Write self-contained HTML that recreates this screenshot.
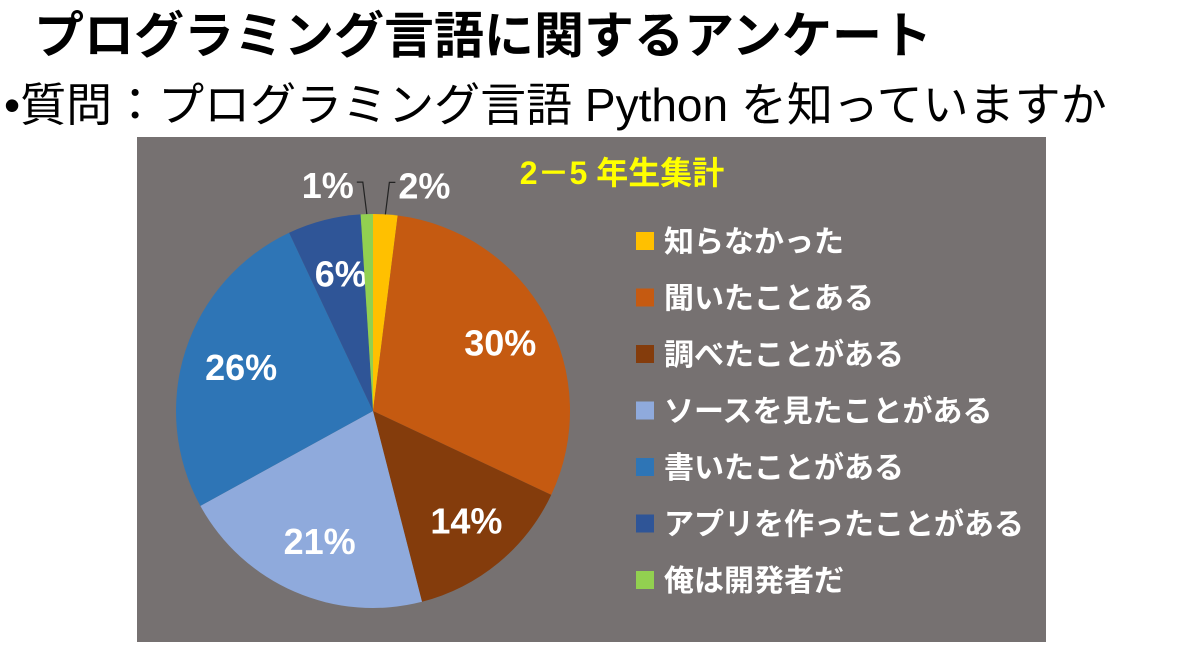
<!DOCTYPE html>
<html><head><meta charset="utf-8">
<style>
body{margin:0;width:1200px;height:647px;background:#fff;overflow:hidden;position:relative;font-family:"Liberation Sans","Noto Sans CJK JP",sans-serif}
#t1{position:absolute;left:34px;top:-4px;font-size:50px;font-weight:bold;color:#000;white-space:nowrap}
#t2{position:absolute;left:4px;top:69px;font-size:46px;color:#000;white-space:nowrap}
#box{position:absolute;left:137px;top:137px;width:909px;height:505px;background:#767171}
</style></head><body>
<div id="t1">プログラミング言語に関するアンケート</div>
<div id="t2">•質問：プログラミング言語 Python を知っていますか</div>
<div id="box"></div>
<svg id="svg" width="1200" height="647" style="position:absolute;left:0;top:0"></svg>
<script>
const categories=["知らなかった","聞いたことある","調べたことがある","ソースを見たことがある","書いたことがある","アプリを作ったことがある","俺は開発者だ"];
const values=[2,30,14,21,26,6,1];
const colors=["#FFC000","#C55A11","#843C0C","#8FAADC","#2E75B6","#2F5597","#92D050"];
const NS="http://www.w3.org/2000/svg";
const svg=document.getElementById('svg');
const cx=373,cy=411,R=197;
function mk(tag,attrs,parent){const e=document.createElementNS(NS,tag);for(const k in attrs)e.setAttribute(k,attrs[k]);(parent||svg).appendChild(e);return e;}
function pt(frac,r){const a=frac*2*Math.PI;return [cx+r*Math.sin(a),cy-r*Math.cos(a)];}
const total=values.reduce((a,b)=>a+b,0);
let acc=0;
const title=mk('text',{x:622,y:184,fill:'#FFFF00','font-size':32,'font-weight':'bold','text-anchor':'middle'});
title.textContent='2－5 年生集計';


values.forEach((v,i)=>{
  const s=acc/total,e=(acc+v)/total;acc+=v;
  const [x1,y1]=pt(s,R),[x2,y2]=pt(e,R);
  const large=(e-s)>0.5?1:0;
  const p=mk('path',{d:`M${cx},${cy}L${x1},${y1}A${R},${R} 0 ${large} 1 ${x2},${y2}Z`,fill:colors[i]});
  
  
  const mid=(s+e)/2;
  const lbl=Math.round(v/total*100)+'%';
  let tx,ty;
  if(v/total<0.04){
    const [ax,ay]=pt(mid,R);
    const dir=mid>0.5?-1:1;
    const ly=ay-32;
    const lx=ax+dir*4;
    const ln=mk('polyline',{points:`${ax},${ay} ${lx},${ly} ${lx+dir*6},${ly}`,fill:'none',stroke:'#222','stroke-width':1.2});
    
    
    tx=lx+dir*9;ty=ly+16;
    const t=mk('text',{x:tx,y:ty,fill:'#fff','font-size':36,'font-weight':'bold','text-anchor':dir>0?'start':'end'});
    t.textContent=lbl;
    
    
  }else{
    [tx,ty]=pt(mid,R*0.72);
    const t=mk('text',{x:tx+3,y:ty+13,fill:'#fff','font-size':36,'font-weight':'bold','text-anchor':'middle'});
    t.textContent=lbl;
    
    
  }
});
categories.forEach((c,i)=>{
  const y=241+i*56.5;
  const g=mk('g',{});
  
  
  mk('rect',{x:636,y:y-9,width:18,height:18,fill:colors[i]},g);
  const t=mk('text',{x:664,y:y+11,fill:'#fff','font-size':30,'font-weight':'bold'},g);
  t.textContent=c;
});
</script>
</body></html>
